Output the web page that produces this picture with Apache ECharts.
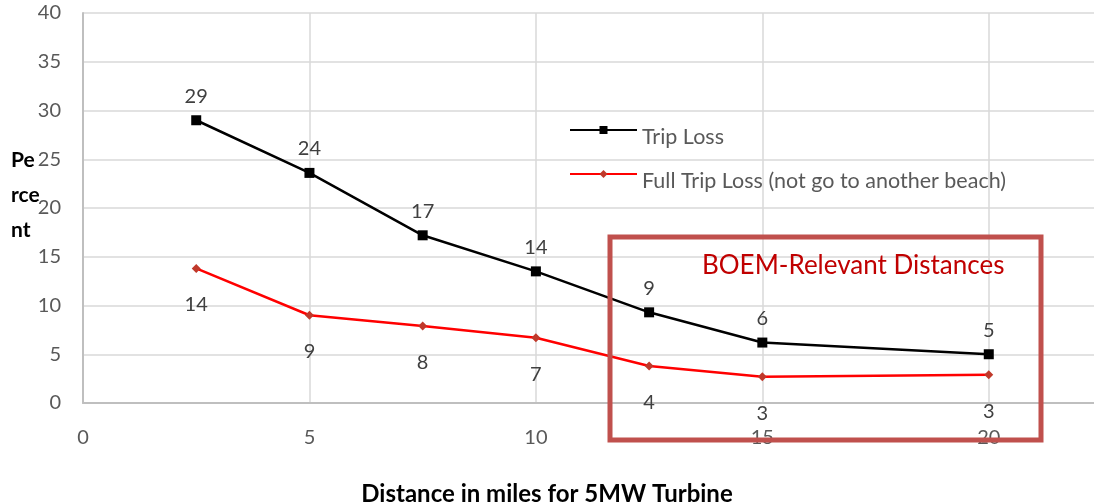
<!DOCTYPE html>
<html>
<head>
<meta charset="utf-8">
<script src="https://cdn.jsdelivr.net/npm/echarts@6/dist/echarts.min.js"></script>
<style>html,body{margin:0;padding:0;background:#fff}#c{width:1094px;height:503px}</style>
</head>
<body>
<div id="c"></div>
<script>
const distances = [2.5, 5, 7.5, 10, 12.5, 15, 20];
const tripLoss = [29.0, 23.6, 17.2, 13.5, 9.3, 6.2, 5.0];
const fullTripLoss = [13.8, 9.0, 7.9, 6.7, 3.8, 2.7, 2.9];
const xTicks = [0, 5, 10, 15, 20];
const yTicks = [0, 5, 10, 15, 20, 25, 30, 35, 40];
const seriesNames = ['Trip Loss', 'Full Trip Loss (not go to another beach)'];
const yAxisName = 'Pe\nrce\nnt';

const FONT = 'Lato';
const chart = echarts.init(document.getElementById('c'));
chart.setOption({
  animation: false,
  backgroundColor: '#fff',
  textStyle: { fontFamily: FONT },
  title: {
    text: 'Distance in miles for 5MW Turbine',
    left: 'center', top: 477,
    textStyle: { fontFamily: FONT, fontWeight: 'bold', fontSize: 24, color: '#000' }
  },
  legend: {
    orient: 'vertical', left: 564, top: 121,
    itemWidth: 67, itemHeight: 10, itemGap: 22,
    formatter: n => '{a|' + n + '}',
    textStyle: { fontFamily: FONT, fontSize: 21.5, color: '#595959',
      rich: { a: { fontFamily: FONT, fontSize: 21.5, color: '#595959', padding: [14, 0, 0, 0] } } },
    data: [seriesNames[0], seriesNames[1]]
  },
  grid: { left: 83, top: 13, right: -8, bottom: 100, containLabel: false, outerBoundsMode: 'none' },
  xAxis: {
    type: 'value', min: 0, max: 22.5, interval: 5,
    axisLine: { show: true, lineStyle: { color: '#BFBFBF', width: 2 } },
    axisTick: { show: false },
    splitLine: { show: true, lineStyle: { color: '#D9D9D9', width: 1.5 } },
    axisLabel: {
      margin: 25, fontSize: 20, color: '#595959', fontFamily: FONT,
      formatter: v => (xTicks.indexOf(v) >= 0 ? String(v) : '')
    }
  },
  yAxis: {
    type: 'value', min: 0, max: 40, interval: 5,
    axisLine: { show: true, lineStyle: { color: '#BFBFBF', width: 2 } },
    axisTick: { show: false },
    splitLine: { show: true, lineStyle: { color: '#D9D9D9', width: 1.5 } },
    axisLabel: {
      margin: 22, fontSize: 20, color: '#595959', fontFamily: FONT,
      formatter: v => (yTicks.indexOf(v) >= 0 ? String(v) : '')
    }
  },
  series: [
    {
      name: seriesNames[0], type: 'line',
      data: distances.map((d, i) => [d, tripLoss[i]]),
      symbol: 'rect', symbolSize: 10,
      itemStyle: { color: '#000' },
      lineStyle: { color: '#000', width: 2.5 },
      label: { show: true, position: 'top', distance: 9, fontSize: 20, color: '#404040', fontFamily: FONT,
        formatter: p => Math.round(p.value[1]) },
      z: 3
    },
    {
      name: seriesNames[1], type: 'line',
      data: distances.map((d, i) => [d, fullTripLoss[i]]),
      symbol: 'diamond', symbolSize: 9,
      itemStyle: { color: '#C0392B' },
      lineStyle: { color: '#FF0000', width: 2.5 },
      label: { show: true, position: 'bottom', distance: 22, fontSize: 20, color: '#404040', fontFamily: FONT,
        formatter: p => Math.round(p.value[1]) },
      z: 3
    }
  ],
  graphic: [
    { type: 'text', left: 11, top: 143,
      style: { text: yAxisName, fontFamily: FONT, fontWeight: 'bold', fontSize: 21, lineHeight: 35, fill: '#000' }, z: 10 },
    { type: 'rect', shape: { x: 610, y: 237, width: 431, height: 203 },
      style: { fill: 'none', stroke: '#C0504D', lineWidth: 5 }, z: 10 },
    { type: 'text', left: 702, top: 253,
      style: { text: 'BOEM-Relevant Distances', fontFamily: FONT, fontSize: 26, fill: '#C00000' }, z: 10 }
  ]
});
</script>
</body>
</html>
